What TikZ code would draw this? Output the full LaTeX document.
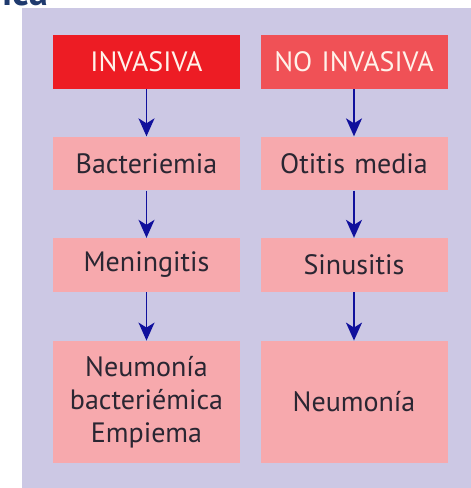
\documentclass[tikz,border=0pt]{standalone}
\usepackage{fontspec}
\setmainfont{PT Sans}
\usetikzlibrary{arrows.meta}
\definecolor{bgl}{HTML}{CCC8E4}
\definecolor{redA}{HTML}{ED1C24}
\definecolor{redB}{HTML}{F05156}
\definecolor{pinkbox}{HTML}{F7A9AD}
\definecolor{txt}{HTML}{2A2632}
\definecolor{headtxt}{HTML}{FFF2EA}
\definecolor{arrowc}{HTML}{10109C}
\definecolor{titlec}{HTML}{1F3A6E}
\begin{document}
\begin{tikzpicture}[x=0.5pt,y=-0.5pt,
  boxbase/.style={inner sep=0pt,align=center,text width=90pt,font=\fontsize{14}{16.5}\selectfont},
  headbox/.style={boxbase,minimum width=93.5pt,minimum height=27pt,text=headtxt},
  stagebox/.style={boxbase,fill=pinkbox,minimum width=93.5pt,minimum height=26.75pt,text=txt},
  flow/.style={draw=arrowc,line width=0.8pt,-{Stealth[length=9pt,width=8pt,inset=2.5pt]},shorten >=0pt}]
\useasboundingbox (0,0) rectangle (471,488);
\clip (0,0) rectangle (471,488);
\fill[bgl] (22,8) rectangle (471,488);
\node[anchor=base west,inner sep=0pt,text=titlec,font=\bfseries\fontsize{19}{20}\selectfont] (title) at (2,5) {ica};
% left column
\node[headbox,fill=redA] (inv) at (146.5,62) {INVASIVA};
\node[stagebox] (bac) at (146.5,163.5) {Bacteriemia};
\node[stagebox] (men) at (146.5,265) {Meningitis};
\node[stagebox,minimum height=61pt] (neub) at (146.5,402) {Neumonía\\bacteriémica\\Empiema};
% right column
\node[headbox,fill=redB] (noinv) at (354,62) {NO INVASIVA};
\node[stagebox] (oti) at (354,163.5) {Otitis media};
\node[stagebox] (sin) at (354,265) {Sinusitis};
\node[stagebox,minimum height=61pt] (neu) at (354,402) {Neumonía};
% arrows
\draw[flow] (inv) -- (bac);
\draw[flow] (bac) -- (men);
\draw[flow] (men) -- (neub);
\draw[flow] (noinv) -- (oti);
\draw[flow] (oti) -- (sin);
\draw[flow] (sin) -- (neu);
\end{tikzpicture}
\end{document}
